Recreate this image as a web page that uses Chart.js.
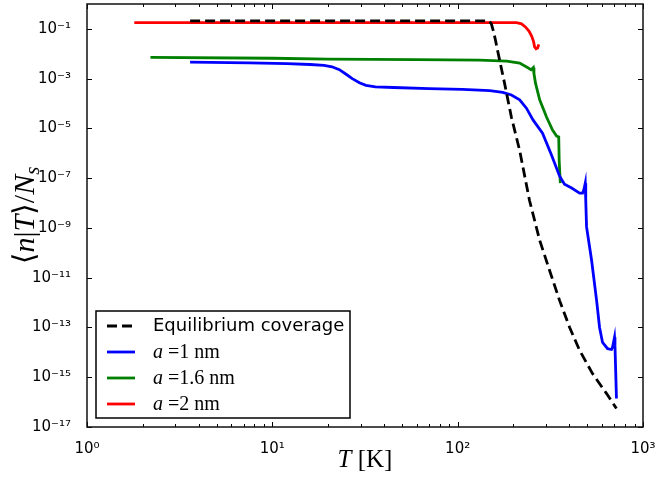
<!DOCTYPE html>
<html>
<head>
<meta charset="utf-8">
<script src="https://cdn.jsdelivr.net/npm/chart.js@4.4.1/dist/chart.umd.min.js"></script>
<style>
  html, body { margin: 0; padding: 0; background: #fff; }
</style>
</head>
<body>
<canvas id="chart" width="655" height="484"></canvas>
<script>
// equilibrium coverage (dashed)
const eqT = [3.6, 148, 152, 156, 160, 164, 179, 195, 216, 244, 277, 313, 355, 402, 455, 534, 636, 719];
const eqN = [0.21, 0.21, 0.16, 0.08, 0.035, 1.4e-2, 6.6e-4, 2.8e-5, 1.3e-6, 1.3e-8, 3.2e-10, 2e-11, 1.2e-12, 1e-13, 1.2e-14, 1.4e-15, 2.2e-16, 5.5e-17];

// a = 1 nm
const t1 = [3.6, 7.5, 12, 16, 19, 21, 23, 25, 27, 29.5, 32, 36, 45, 70, 106, 149, 175, 195, 216, 235, 255, 287, 320, 355, 377, 412, 455, 472, 480, 488, 491, 496, 528, 562, 583, 605, 644, 676, 685, 702, 706, 719];
const n1 = [4.6e-3, 4.3e-3, 4.0e-3, 3.7e-3, 3.4e-3, 3.0e-3, 2.3e-3, 1.5e-3, 1.0e-3, 6.8e-4, 5.4e-4, 4.7e-4, 4.4e-4, 4.0e-4, 3.7e-4, 3.3e-4, 2.8e-4, 2.2e-4, 1.4e-4, 6.5e-5, 2.2e-5, 6.4e-6, 9e-7, 1.2e-7, 5.7e-8, 4e-8, 2.5e-8, 2.5e-8, 3.5e-8, 6.3e-8, 1.3e-8, 1.1e-9, 5e-11, 1.2e-12, 1e-13, 2.5e-14, 1.4e-14, 1.3e-14, 1.6e-14, 4e-14, 1.9e-14, 1.4e-16];

// a = 1.6 nm
const t2 = [2.2, 10, 20, 60, 131, 184, 216, 238, 249, 256, 258, 263, 277, 302, 325, 342, 351, 353, 358];
const n2 = [7.2e-3, 6.6e-3, 6.1e-3, 5.8e-3, 5.6e-3, 5.1e-3, 4.2e-3, 2.8e-3, 2.3e-3, 2.8e-3, 1.6e-3, 6.6e-4, 1.4e-4, 2.8e-5, 8.5e-6, 4.9e-6, 4.5e-6, 5e-7, 6.3e-8];

// a = 2 nm
const t3 = [1.8, 50, 208, 221, 232, 243, 251, 257, 260, 265, 270, 274];
const n3 = [0.18, 0.18, 0.178, 0.16, 0.12, 0.08, 0.05, 0.03, 0.019, 0.016, 0.017, 0.024];

const seriesNames = ['Equilibrium coverage', 'a =1 nm', 'a =1.6 nm', 'a =2 nm'];
const seriesColors = ['#000000', '#0000ff', '#008000', '#ff0000'];

const xMajor = [1, 10, 100, 1000];
const yMajor = [1e-17, 1e-15, 1e-13, 1e-11, 1e-9, 1e-7, 1e-5, 1e-3, 1e-1];
const xMinor = [];
xMajor.slice(0, -1).forEach(d => { for (let k = 2; k <= 9; k++) xMinor.push(d * k); });

const sup = { '-': '⁻', '0': '⁰', '1': '¹', '2': '²', '3': '³', '4': '⁴', '5': '⁵', '6': '⁶', '7': '⁷', '8': '⁸', '9': '⁹' };
function powLabel(v) {
  const e = String(Math.round(Math.log10(v)));
  return '10' + e.split('').map(c => sup[c]).join('');
}

const pts = (xs, ys) => xs.map((x, i) => ({ x: x, y: ys[i] }));

// frame + inward ticks on all four sides
const frame = {
  id: 'frame',
  afterDatasetsDraw(chart) {
    const { ctx, chartArea: a, scales: { x, y } } = chart;
    ctx.save();
    ctx.strokeStyle = '#000';
    ctx.lineWidth = 1;
    ctx.beginPath();
    const xt = (v, len) => {
      const px = Math.round(x.getPixelForValue(v)) + 0.5;
      ctx.moveTo(px, a.bottom); ctx.lineTo(px, a.bottom - len);
      ctx.moveTo(px, a.top); ctx.lineTo(px, a.top + len);
    };
    xMinor.forEach(v => xt(v, 3));
    xMajor.forEach(v => xt(v, 5));
    yMajor.forEach(v => {
      const py = Math.round(y.getPixelForValue(v)) + 0.5;
      ctx.moveTo(a.left, py); ctx.lineTo(a.left + 5, py);
      ctx.moveTo(a.right, py); ctx.lineTo(a.right - 5, py);
    });
    ctx.stroke();
    ctx.lineWidth = 1.5;
    ctx.strokeStyle = '#111';
    ctx.strokeRect(a.left, a.top, a.right - a.left, a.bottom - a.top);
    ctx.restore();
  }
};

function drawParts(ctx, parts, size) {
  // parts: [text, italic, subscript]
  let w = 0;
  const fonts = parts.map(p => {
    const s = p[2] ? size * 0.7 : size;
    const f = (p[1] ? 'italic ' : '') + s + 'px "Liberation Serif", "DejaVu Serif", "DejaVu Sans", serif';
    ctx.font = f;
    w += ctx.measureText(p[0]).width;
    return f;
  });
  return { w: w, draw(x0, y0) {
    let x = x0;
    parts.forEach((p, i) => {
      ctx.font = fonts[i];
      ctx.fillText(p[0], x, y0 + (p[2] ? size * 0.15 : 0));
      x += ctx.measureText(p[0]).width;
    });
  } };
}

const titles = {
  id: 'titles',
  afterDraw(chart) {
    const { ctx, chartArea: a } = chart;
    ctx.save();
    ctx.fillStyle = '#000';
    ctx.textBaseline = 'alphabetic';
    ctx.textAlign = 'left';
    const xt = drawParts(ctx, [['T', true], [' [K]', false]], 25);
    xt.draw((a.left + a.right) / 2 - xt.w / 2, 467);
    ctx.translate(34, (a.top + a.bottom) / 2);
    ctx.rotate(-Math.PI / 2);
    const yt = drawParts(ctx, [['⟨', false], ['n', true], ['|', false], ['T', true], ['⟩', false], ['/', false], ['N', true], ['s', true, true]], 30);
    yt.draw(-yt.w / 2, 0);
    ctx.restore();
  }
};

const legendBox = {
  id: 'legendBox',
  afterDraw(chart) {
    const { ctx, chartArea: a } = chart;
    const bx = a.left + 9, bw = 254, bh = 107, by = a.bottom - 9 - bh;
    ctx.save();
    ctx.fillStyle = '#fff';
    ctx.fillRect(bx, by, bw, bh);
    ctx.strokeStyle = '#000';
    ctx.lineWidth = 1.5;
    ctx.strokeRect(bx, by, bw, bh);
    chart.data.datasets.forEach((ds, i) => {
      const cy = by + 15 + i * 26;
      ctx.strokeStyle = ds.borderColor;
      ctx.lineWidth = ds.borderWidth;
      ctx.setLineDash(ds.borderDash || []);
      ctx.beginPath();
      ctx.moveTo(bx + 11, cy); ctx.lineTo(bx + 39, cy);
      ctx.stroke();
      ctx.setLineDash([]);
      ctx.fillStyle = '#000';
      ctx.textBaseline = 'middle';
      if (ds.label.startsWith('a ')) {
        const t = drawParts(ctx, [['a', true], [ds.label.slice(1), false]], 20);
        t.draw(bx + 57, cy + 1);
      } else {
        ctx.font = '18px "DejaVu Sans"';
        ctx.fillText(ds.label, bx + 57, cy);
      }
    });
    ctx.restore();
  }
};

const data = {
  datasets: [
    { label: seriesNames[0], data: pts(eqT, eqN), borderColor: seriesColors[0], borderWidth: 2.8, borderDash: [10, 5] },
    { label: seriesNames[1], data: pts(t1, n1), borderColor: seriesColors[1], borderWidth: 2.8 },
    { label: seriesNames[2], data: pts(t2, n2), borderColor: seriesColors[2], borderWidth: 2.8 },
    { label: seriesNames[3], data: pts(t3, n3), borderColor: seriesColors[3], borderWidth: 2.8 }
  ]
};

const tickFont = { family: 'DejaVu Sans', size: 15 };

const config = {
  type: 'scatter',
  data: data,
  options: {
    responsive: false,
    animation: false,
    showLine: true,
    elements: { point: { radius: 0 }, line: { tension: 0, fill: false } },
    layout: { padding: { top: 4, right: 12, left: 0, bottom: 0 } },
    plugins: { legend: { display: false }, tooltip: { enabled: false } },
    scales: {
      x: {
        type: 'logarithmic',
        min: 1, max: 1000,
        grid: { display: false },
        border: { display: false },
        afterBuildTicks: s => { s.ticks = xMajor.concat(xMinor).sort((p, q) => p - q).map(v => ({ value: v })); },
        afterFit: s => { s.height = 57; s.paddingLeft = 0; s.paddingRight = 0; },
        ticks: {
          autoSkip: false, maxRotation: 0, padding: 5, color: '#000', font: tickFont,
          callback: v => xMajor.includes(v) ? powLabel(v) : ''
        }
      },
      y: {
        type: 'logarithmic',
        min: 1e-17, max: 1,
        grid: { display: false },
        border: { display: false },
        afterBuildTicks: s => { s.ticks = yMajor.map(v => ({ value: v })); },
        afterFit: s => { s.width = 87; s.paddingTop = 0; s.paddingBottom = 0; },
        ticks: { autoSkip: false, padding: 8, color: '#000', font: tickFont, callback: v => powLabel(v) }
      }
    }
  },
  plugins: [frame, titles, legendBox]
};

const myChart = new Chart(document.getElementById('chart'), config);
</script>
</body>
</html>
